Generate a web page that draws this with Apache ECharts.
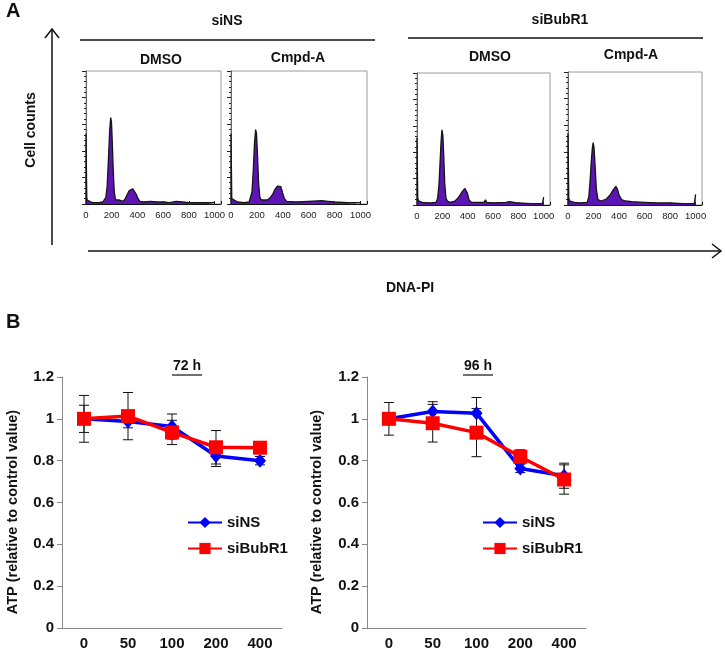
<!DOCTYPE html>
<html><head><meta charset="utf-8">
<script src="https://cdn.jsdelivr.net/npm/echarts@6/dist/echarts.min.js"></script>
<style>html,body{margin:0;padding:0;background:#fff}#c{width:725px;height:651px}</style>
</head><body><div id="c"></div>
<script>
// ---------- DATA ----------
// Panel A: DNA-PI histograms, [DNA-PI channel, cell counts as % of panel height]
var histNsDmso = [[0,0],[0,53],[6,5],[10,3],[20,2],[40,1.5],[60,1],[100,1],[130,1.5],[145,2],[155,5],[165,14],[175,35],[184,55],[192,65],[198,62],[205,45],[212,25],[220,9],[230,3],[240,2],[260,3],[275,4],[290,2],[305,4],[320,7],[335,10],[350,11],[362,11.5],[375,10.5],[390,7.5],[405,4],[420,2],[450,1.5],[500,2],[550,1.5],[600,1.5],[650,1],[700,2],[750,1.5],[800,1],[850,1],[900,1],[950,1],[1000,1]];
var histNsCmpd = [[0,0],[0,53],[6,4],[10,2.5],[50,1.5],[100,1],[140,1.5],[152,3],[162,9],[172,25],[181,45],[190,56],[197,53],[205,36],[213,16],[223,5],[235,3],[250,2],[280,3],[300,4.5],[320,7],[340,11],[358,13.5],[372,14],[385,13],[398,8.5],[412,4],[430,2],[500,1.5],[600,2],[700,2.5],[750,2],[800,1.5],[900,1],[1000,1]];
var histBubDmso = [[0,0],[0,51],[6,5],[15,3],[40,2],[100,1.5],[150,2],[163,5],[173,15],[182,32],[190,48],[197,57],[204,53],[211,38],[219,16],[229,5],[240,3],[260,2],[300,3],[320,5],[340,7.5],[360,10.5],[378,12.5],[388,13],[398,9],[410,4],[430,2],[500,2],[530,2],[540,4],[550,2],[600,1.5],[700,2],[730,2.5],[800,1.5],[900,1],[990,1],[1000,6]];
var histBubCmpd = [[0,0],[0,54],[6,5],[15,3],[50,2],[100,1.5],[150,2],[163,6],[173,18],[182,32],[190,42],[197,47],[204,43],[212,30],[222,12],[235,4],[260,3],[300,4.5],[330,7.5],[355,11.5],[375,14],[387,12],[400,7.5],[420,4],[450,3],[500,2.5],[600,2],[700,1.5],[800,1.5],[900,1],[990,1],[1000,8]];

// Panel B: ATP relative to control
var doses = ['0','50','100','200','400'];
var ns72 = [1.0, 0.987, 0.963, 0.822, 0.80];
var ns72Err = [0.065, 0.03, 0.06, 0.05, 0.02];
var bub72 = [1.0, 1.013, 0.935, 0.864, 0.862];
var bub72Err = [0.112, 0.113, 0.058, 0.08, 0.01];
var ns96 = [1.0, 1.035, 1.027, 0.763, 0.728];
var ns96Err = [0.078, 0.047, 0.075, 0.02, 0.06];
var bub96 = [1.0, 0.979, 0.934, 0.819, 0.71];
var bub96Err = [0.02, 0.09, 0.115, 0.033, 0.07];

// ---------- CHART ----------
var FONT = 'Liberation Sans, Arial, sans-serif';
var chart = echarts.init(document.getElementById('c'), null, {renderer:'canvas'});

var histBoxes = [
  {left:86, top:71, width:135, height:133},
  {left:231, top:71, width:136, height:133},
  {left:417, top:73, width:133, height:132},
  {left:568, top:72, width:134, height:133}
];
var histData = [histNsDmso, histNsCmpd, histBubDmso, histBubCmpd];

var grids = [], xAxes = [], yAxes = [], series = [];
histBoxes.forEach(function(b, i){
  grids.push({left:b.left, top:b.top, width:b.width, height:b.height, show:true, borderColor:'#9a9a9a', borderWidth:1, backgroundColor:'transparent'});
  xAxes.push({type:'value', gridIndex:i, min:0, max:1050, interval:200,
    axisLine:{lineStyle:{color:'#111', width:1}},
    axisTick:{inside:true, length:3, lineStyle:{color:'#111'}},
    minorTick:{show:true, splitNumber:4, length:2, lineStyle:{color:'#111'}},
    axisLabel:{fontSize:9.5, color:'#222', fontFamily:FONT, margin:6, showMaxLabel:false,
      formatter:function(v){ return String(v); }},
    splitLine:{show:false}});
  yAxes.push({type:'value', gridIndex:i, min:0, max:100, interval:20,
    axisLine:{show:true, lineStyle:{color:'#666', width:1}},
    axisTick:{show:true, length:4, lineStyle:{color:'#222'}},
    minorTick:{show:true, splitNumber:5, length:2, lineStyle:{color:'#222'}},
    axisLabel:{show:false}, splitLine:{show:false}});
  series.push({type:'line', xAxisIndex:i, yAxisIndex:i, data:histData[i], symbol:'none', silent:true, z:5, clip:false,
    lineStyle:{color:'#151515', width:1.3}, areaStyle:{color:'#5d14b4', opacity:1}});
});

var lineBoxes = [
  {left:62, top:377, width:220, height:252},
  {left:367, top:377, width:219, height:252}
];
lineBoxes.forEach(function(b, k){
  var gi = 4 + k;
  grids.push({left:b.left, top:b.top, width:b.width, height:b.height});
  xAxes.push({type:'category', gridIndex:gi, data:doses, boundaryGap:true,
    axisLine:{lineStyle:{color:'#888', width:1}},
    axisTick:{length:5, lineStyle:{color:'#888'}},
    axisLabel:{fontSize:15, fontWeight:'bold', color:'#111', fontFamily:FONT, margin:8}});
  yAxes.push({type:'value', gridIndex:gi, min:0, max:1.2, interval:0.2,
    axisLine:{show:true, lineStyle:{color:'#888', width:1}},
    axisTick:{show:true, length:5, lineStyle:{color:'#888'}},
    axisLabel:{fontSize:15, fontWeight:'bold', color:'#111', fontFamily:FONT, margin:8},
    splitLine:{show:false}});
});

function errSeries(gi, vals, errs){
  return {type:'custom', xAxisIndex:gi, yAxisIndex:gi, silent:true, z:1,
    data: vals.map(function(v, i){ return [i, v - errs[i], v + errs[i]]; }),
    encode:{x:0, y:[1,2]},
    renderItem:function(params, api){
      var lo = api.coord([api.value(0), api.value(1)]);
      var hi = api.coord([api.value(0), api.value(2)]);
      var w = 5, st = {stroke:'#111', lineWidth:1};
      return {type:'group', children:[
        {type:'line', shape:{x1:lo[0], y1:lo[1], x2:hi[0], y2:hi[1]}, style:st},
        {type:'line', shape:{x1:lo[0]-w, y1:lo[1], x2:lo[0]+w, y2:lo[1]}, style:st},
        {type:'line', shape:{x1:hi[0]-w, y1:hi[1], x2:hi[0]+w, y2:hi[1]}, style:st}
      ]};
    }};
}
function nsSeries(gi, vals){
  return {name:'siNS', type:'line', xAxisIndex:gi, yAxisIndex:gi, data:vals, z:3,
    symbol:'diamond', symbolSize:[12,14], itemStyle:{color:'#0000ff'},
    lineStyle:{color:'#0000ff', width:3.5}};
}
function bubSeries(gi, vals){
  return {name:'siBubR1', type:'line', xAxisIndex:gi, yAxisIndex:gi, data:vals, z:4,
    symbol:'rect', symbolSize:14, itemStyle:{color:'#ff0000'},
    lineStyle:{color:'#ff0000', width:3.5}};
}
series.push(errSeries(4, ns72, ns72Err), errSeries(4, bub72, bub72Err), nsSeries(4, ns72), bubSeries(4, bub72));
series.push(errSeries(5, ns96, ns96Err), errSeries(5, bub96, bub96Err), nsSeries(5, ns96), bubSeries(5, bub96));

var bold = function(sz){ return {fontSize:sz, fontWeight:'bold', fill:'#111', fontFamily:FONT}; };
function txt(x, y, s, sz, extra){
  var st = Object.assign({text:s, align:'center', verticalAlign:'middle'}, bold(sz));
  var o = {type:'text', x:x, y:y, style:st, silent:true};
  if (extra) Object.assign(o, extra);
  return o;
}
function ln(x1, y1, x2, y2, w){
  return {type:'line', silent:true, shape:{x1:x1, y1:y1, x2:x2, y2:y2}, style:{stroke:'#111', lineWidth:w||1.5}};
}
function pl(pts, w){
  return {type:'polyline', silent:true, shape:{points:pts}, style:{stroke:'#111', lineWidth:w||1.5, fill:null}};
}

var graphics = [
  {type:'text', x:6, y:1, style:Object.assign({text:'A'}, bold(20)), silent:true},
  {type:'text', x:6, y:312, style:Object.assign({text:'B'}, bold(20)), silent:true},
  txt(227, 21, 'siNS', 14), ln(80, 40, 375, 40),
  txt(560, 20, 'siBubR1', 14), ln(408, 38, 703, 38),
  txt(161, 60, 'DMSO', 14), txt(298, 58, 'Cmpd-A', 14),
  txt(490, 57, 'DMSO', 14), txt(631, 55, 'Cmpd-A', 14),
  // Cell counts arrow
  ln(52, 245, 52, 29), pl([[45, 38], [52, 29], [59, 38]]),
  txt(31, 130, 'Cell counts', 14, {rotation:Math.PI/2}),
  // DNA-PI arrow
  ln(88, 251, 721, 251), pl([[712, 244], [721, 251], [712, 258]]),
  txt(410, 288, 'DNA-PI', 14),
  // Panel B titles
  txt(187, 366, '72 h', 14), ln(172, 375, 202, 375, 1.2),
  txt(478, 366, '96 h', 14), ln(463, 375, 493, 375, 1.2),
  txt(13, 512, 'ATP (relative to control value)', 14.5, {rotation:Math.PI/2}),
  txt(317, 512, 'ATP (relative to control value)', 14.5, {rotation:Math.PI/2})
];

var legendText = {fontSize:15, fontWeight:'bold', color:'#111', fontFamily:FONT};
chart.setOption({
  animation:false,
  backgroundColor:'#fff',
  grid:grids, xAxis:xAxes, yAxis:yAxes, series:series,
  legend:[
    {left:187, top:515, padding:0, orient:'vertical', itemGap:11, itemWidth:34, itemHeight:14, data:['siNS','siBubR1'],
     textStyle:legendText, selectedMode:false},
    {left:482, top:515, padding:0, orient:'vertical', itemGap:11, itemWidth:34, itemHeight:14, data:['siNS','siBubR1'],
     textStyle:legendText, selectedMode:false}
  ],
  graphic:graphics
});
</script></body></html>
